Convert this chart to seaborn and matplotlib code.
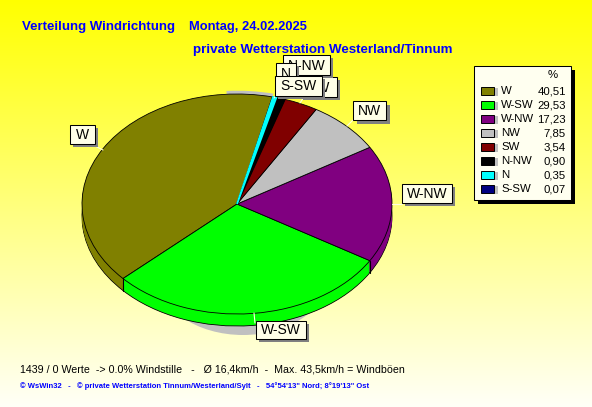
import numpy as np
import matplotlib
matplotlib.use('Agg')
import matplotlib.pyplot as plt
from matplotlib.patches import Rectangle, Ellipse, Wedge
import seaborn as sns

directions = ['W', 'W-SW', 'W-NW', 'NW', 'SW', 'N-NW', 'N', 'S-SW']
shares = [40.51, 29.53, 17.23, 7.85, 3.54, 0.90, 0.35, 0.07]
share_labels = ['40,51', '29,53', '17,23', '7,85', '3,54', '0,90', '0,35', '0,07']
colors = ['#808000', '#00FF00', '#800080', '#C0C0C0', '#800000', '#000000', '#00FFFF', '#000080']

title_left = 'Verteilung Windrichtung'
title_date = 'Montag, 24.02.2025'
title_right = 'private Wetterstation Westerland/Tinnum'
footer_main = '1439 / 0 Werte  -> 0.0% Windstille   -   Ø 16,4km/h  -  Max. 43,5km/h = Windböen'
footer_small = '© WsWin32   -   © private Wetterstation Tinnum/Westerland/Sylt   -   54°54\'13" Nord; 8°19\'13" Ost'

W, H = 592, 407
CX, CY, RX, RY = 237, 204, 155, 110
DEPTH = 12
START = 76.8
EDGE = 0.6

sns.set_theme(style='white')
plt.rcParams['font.family'] = ['Liberation Sans', 'DejaVu Sans']
palette = sns.color_palette(colors)

fig = plt.figure(figsize=(W / 100, H / 100), dpi=100)

# Hintergrund und alles in Pixelkoordinaten
bg = fig.add_axes([0, 0, 1, 1])
bg.set_xlim(0, W)
bg.set_ylim(H, 0)
bg.axis('off')
grad = np.ones((H, 1, 3))
grad[:, 0, 2] = np.linspace(0, 0.97, H)
bg.imshow(grad, extent=(0, W, H, 0), aspect='auto', zorder=0)
bg.add_patch(Ellipse((243, 276), 170, 118, color='#C0C0C0', lw=0, zorder=1))

# Tortenscheibe: Einheitskreis, per Achsenlimits zur Ellipse gestaucht
pie_ax = fig.add_axes([0, 0, 1, 1], facecolor='none')


def draw_pie(offset, edge):
    style = {'linewidth': EDGE, 'edgecolor': 'black'} if edge else {'linewidth': 0}
    wedges, _ = pie_ax.pie(shares, colors=palette, startangle=START, counterclock=True,
                           center=(0, -offset / RY), radius=1, wedgeprops=style)
    return wedges


# grauer Rand hinter dem oberen Bogen
pie_ax.add_patch(Wedge((0, 0), 1.03, START, START + 17, color='#C0C0C0', lw=0))

draw_pie(DEPTH, True)
for d in range(DEPTH - 1, 0, -1):
    draw_pie(d, False)
top_wedges = draw_pie(0, True)

# die schmalen Stuecke wirken im Original durch die Rasterung breiter
for idx in (5, 6):
    top_wedges[idx].set_edgecolor(palette[idx])
    top_wedges[idx].set_linewidth(1.3)
    top_wedges[idx].set_zorder(5 + idx)

# senkrechte Kanten an der Wand
bounds = START + np.cumsum(shares) * 3.6
for ang in bounds:
    if np.sin(np.radians(ang)) < -0.3:
        x = np.cos(np.radians(ang))
        y = np.sin(np.radians(ang))
        pie_ax.plot([x, x], [y, y - DEPTH / RY], color='black', lw=EDGE + 0.2)

pie_ax.set_aspect('auto')
pie_ax.set_xlim(-CX / RX, (W - CX) / RX)
pie_ax.set_ylim(-(H - CY) / RY, CY / RY)

# Beschriftungen liegen obenauf
top = fig.add_axes([0, 0, 1, 1], facecolor='none')
top.set_xlim(0, W)
top.set_ylim(H, 0)
top.axis('off')


def label_box(name, x0, y0, x1, y1, line=None, shadow=3):
    if line is not None:
        top.plot(line[0], line[1], color='#FFFFE0', lw=0.8, zorder=2)
    top.add_patch(Rectangle((x0 + shadow, y0 + shadow), x1 - x0, y1 - y0, color='#808080', lw=0, zorder=3))
    top.add_patch(Rectangle((x0, y0), x1 - x0, y1 - y0, facecolor='#FFFFE8', edgecolor='black', lw=0.75, zorder=3))
    top.text((x0 + x1) / 2, (y0 + y1) / 2 + 0.5, name, ha='center', va='center', fontsize=10, color='black', zorder=3)


label_box('W', 70, 125, 95, 144, ((95, 103), (146, 150)))
label_box('NW', 353, 101, 386, 120, ((353, 347), (120, 126)), shadow=4)
label_box('W-NW', 402, 184, 452, 203, ((402, 392), (204, 204)))
label_box('W-SW', 256, 321, 306, 339, ((254, 255), (313, 323)))
label_box('SW', 300, 77, 337, 97, ((304, 300), (97, 103)))
label_box('N-NW', 283, 55, 330, 75)
label_box('N', 276, 63, 296, 83)
label_box('S-SW', 275, 76, 322, 96, ((276, 274), (96, 98)))

# Legende
top.add_patch(Rectangle((478, 70), 97, 134, color='black', lw=0, zorder=3))
top.add_patch(Rectangle((474, 66), 97, 134, facecolor='#FFFFF0', edgecolor='black', lw=0.75, zorder=3))
top.text(553, 75, '%', ha='center', va='center', fontsize=8.2, color='black', zorder=4)
for i, name in enumerate(directions):
    y = 91 + i * 14
    top.add_patch(Rectangle((485, y - 3), 13, 8, color='#C0C0C0', lw=0, zorder=4))
    top.add_patch(Rectangle((481, y - 4), 13, 8, facecolor=palette[i], edgecolor='black', lw=0.7, zorder=4))
    top.text(501, y, name, ha='left', va='center', fontsize=8.2, color='black', zorder=4)
    top.text(566, y, share_labels[i], ha='right', va='center', fontsize=8.2, color='black', zorder=4)

# Texte
top.text(22, 27, title_left, ha='left', va='center', fontsize=9.5, fontweight='bold', color='#0000FF')
top.text(189, 27, title_date, ha='left', va='center', fontsize=9.3, fontweight='bold', color='#0000FF')
top.text(193, 50, title_right, ha='left', va='center', fontsize=9.6, fontweight='bold', color='#0000FF')
top.text(20, 369, footer_main, ha='left', va='center', fontsize=7.7, color='black')
top.text(20, 386, footer_small, ha='left', va='center', fontsize=5.5, fontweight='bold', color='#0000FF')

fig.savefig('out.png', dpi=100)
